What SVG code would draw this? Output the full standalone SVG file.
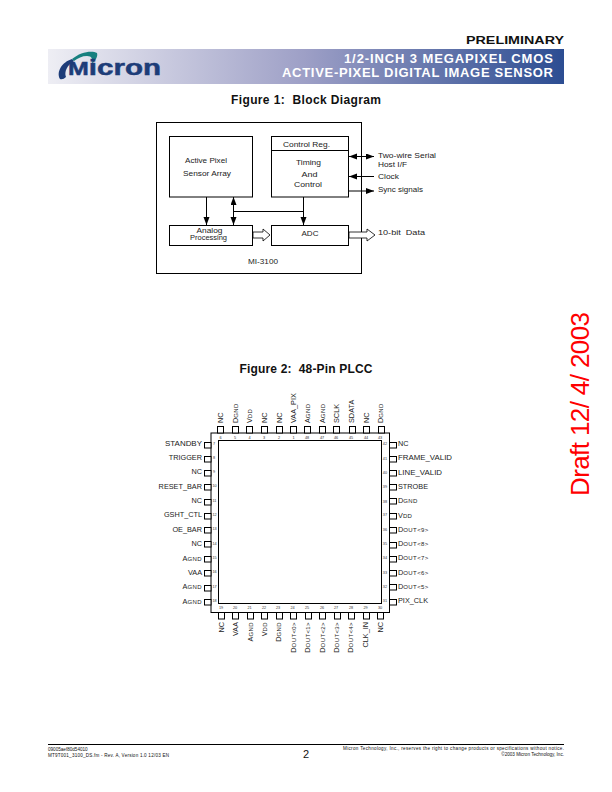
<svg xmlns="http://www.w3.org/2000/svg" width="612" height="792" viewBox="0 0 612 792">
<style>
text{font-family:"Liberation Sans",Arial,sans-serif;fill:#111}
.b{fill:#fff;stroke:#000;stroke-width:1}
.w{fill:none;stroke:#000;stroke-width:1}
.bl{font-size:7.2px;fill:#222;white-space:pre}
.pl{font-size:7.3px;fill:#222}
.pn{font-size:3.8px;fill:#333}
.sc{font-size:6px;letter-spacing:.4px}
.pin{fill:#fff;stroke:#000;stroke-width:1}
.c{text-anchor:middle}
.e{text-anchor:end}
.h{fill:#fff;stroke:#000;stroke-width:.8}
.t{font-weight:bold;font-size:12px;white-space:pre}
.hd{font-weight:bold;font-size:13px;fill:#fff;text-anchor:end}
</style>
<defs>
<linearGradient id="g" x1="0" x2="1" y1="0" y2="0"><stop offset="0" stop-color="#eeeef4"/><stop offset=".5" stop-color="#9d9fc6"/><stop offset="1" stop-color="#2c4d92"/></linearGradient>
<marker id="a" markerUnits="userSpaceOnUse" markerWidth="9" markerHeight="7" refX="8" refY="3" orient="auto-start-reverse"><path d="M0 0L8 3L0 6z" fill="#000"/></marker>
</defs>
<g id="header">
<text x="564" y="43.5" class="e" style="font-weight:bold;font-size:11px" textLength="98" lengthAdjust="spacingAndGlyphs">PRELIMINARY</text>
<rect x="48" y="49" width="516" height="35" fill="url(#g)"/>
<text x="553" y="62.5" class="hd" textLength="209" lengthAdjust="spacing">1/2-INCH 3 MEGAPIXEL CMOS</text>
<text x="553" y="76.5" class="hd" textLength="271" lengthAdjust="spacing">ACTIVE-PIXEL DIGITAL IMAGE SENSOR</text>
</g>
<g id="logo">
<path d="M60 79C56 72 62 62 72 59L74 61C67 65 64 72 66 77Q63 80 60 79z" fill="#1d3c78"/>
<path d="M72 59C80 52 92 50 97 53C98 56 96 60 92 64C93 59 92 56 87 56C82 56 78 58 74 61z" fill="#17807f"/>
<text x="68" y="75" style="font-weight:bold;font-size:22.5px;fill:#1d3c78;stroke:#1d3c78;stroke-width:.5" textLength="93" lengthAdjust="spacingAndGlyphs"><tspan style="font-size:19px">M</tspan>icron</text>
</g>
<text x="306" y="104" class="t c" textLength="150" lengthAdjust="spacing">Figure 1:  Block Diagram</text>
<g id="block-diagram">
<rect class="b" x="156.5" y="122.5" width="205" height="151"/>
<text x="263" y="263.5" class="bl c" textLength="30" lengthAdjust="spacingAndGlyphs">MI-3100</text>
</g>
<g id="sensor-array"><rect class="b" x="169.5" y="136.5" width="83" height="60.5"/><text x="206" y="163" class="bl c" textLength="42" lengthAdjust="spacingAndGlyphs">Active Pixel</text><text x="207" y="176" class="bl c" textLength="48" lengthAdjust="spacingAndGlyphs">Sensor Array</text></g>
<g id="control"><rect class="b" x="271.5" y="136.5" width="77" height="60.5"/><line class="w" x1="271.5" y1="150.5" x2="348.5" y2="150.5"/><text x="306.5" y="147" class="bl c" textLength="47" lengthAdjust="spacingAndGlyphs">Control Reg.</text><text x="308.5" y="165" class="bl c" textLength="25" lengthAdjust="spacingAndGlyphs">Timing</text><text x="309.5" y="177" class="bl c" textLength="16" lengthAdjust="spacingAndGlyphs">And</text><text x="308" y="187" class="bl c" textLength="28" lengthAdjust="spacingAndGlyphs">Control</text></g>
<g id="analog"><rect class="b" x="169.5" y="225.5" width="83" height="20"/><text x="209.5" y="233" class="bl c" textLength="26" lengthAdjust="spacingAndGlyphs">Analog</text><text x="208.5" y="240" class="bl c" textLength="37" lengthAdjust="spacingAndGlyphs">Processing</text></g>
<g id="adc"><rect class="b" x="271.5" y="225.5" width="77" height="20"/><text x="310" y="236" class="bl c" textLength="17" lengthAdjust="spacingAndGlyphs">ADC</text></g>
<g id="connectors">
<line class="w" x1="206.5" y1="197" x2="206.5" y2="225" marker-end="url(#a)"/>
<line class="w" x1="233.5" y1="197" x2="233.5" y2="225" marker-start="url(#a)" marker-end="url(#a)"/>
<line class="w" x1="233.5" y1="211.5" x2="303.5" y2="211.5"/>
<line class="w" x1="303.5" y1="197" x2="303.5" y2="225" marker-end="url(#a)"/>
<line class="w" x1="349" y1="156.5" x2="374" y2="156.5" marker-start="url(#a)" marker-end="url(#a)"/>
<line class="w" x1="374" y1="176.5" x2="349" y2="176.5" marker-end="url(#a)"/>
<line class="w" x1="349" y1="191" x2="374" y2="191" marker-end="url(#a)"/>
<path class="h" d="M253 232H263V229L270 235L263 241V238H253z"/>
<path class="h" d="M349 232H367V229L375 235L367 241V238H349z"/>
</g>
<g id="signals">
<text x="378" y="158" class="bl" textLength="58" lengthAdjust="spacingAndGlyphs">Two-wire Serial</text><text x="378" y="167" class="bl" textLength="29" lengthAdjust="spacingAndGlyphs">Host I/F</text><text x="378" y="179" class="bl" textLength="21" lengthAdjust="spacingAndGlyphs">Clock</text><text x="378" y="192" class="bl" textLength="45" lengthAdjust="spacingAndGlyphs">Sync signals</text><text x="378" y="235" class="bl" textLength="47" lengthAdjust="spacingAndGlyphs">10-bit  Data</text>
</g>
<text x="306" y="373" class="t c" textLength="133" lengthAdjust="spacing">Figure 2:  48-Pin PLCC</text>
<g id="package">
<rect class="b" x="211" y="433" width="178.5" height="179.5"/>
<rect class="b" x="218.5" y="440.5" width="163" height="163"/>
</g>
<g id="pins-top">
<rect class="pin" x="217.5" y="426.5" width="6" height="6.5"/><rect class="pin" x="232.5" y="426.5" width="6" height="6.5"/><rect class="pin" x="246.5" y="426.5" width="6" height="6.5"/><rect class="pin" x="261.5" y="426.5" width="6" height="6.5"/><rect class="pin" x="276.5" y="426.5" width="6" height="6.5"/><rect class="pin" x="290.5" y="426.5" width="6" height="6.5"/><rect class="pin" x="304.5" y="426.5" width="6" height="6.5"/><rect class="pin" x="319.5" y="426.5" width="6" height="6.5"/><rect class="pin" x="333.5" y="426.5" width="6" height="6.5"/><rect class="pin" x="349.5" y="426.5" width="6" height="6.5"/><rect class="pin" x="363.5" y="426.5" width="6" height="6.5"/><rect class="pin" x="378.5" y="426.5" width="6" height="6.5"/>
<text class="pl" transform="translate(222.5 423) rotate(-90)">NC</text>
<text class="pl" transform="translate(237.5 423) rotate(-90)">D<tspan class="sc">GND</tspan></text>
<text class="pl" transform="translate(251.5 423) rotate(-90)">V<tspan class="sc">DD</tspan></text>
<text class="pl" transform="translate(266.5 423) rotate(-90)">NC</text>
<text class="pl" transform="translate(281.5 423) rotate(-90)">NC</text>
<text class="pl" transform="translate(295.5 423) rotate(-90)">VAA_PIX</text>
<text class="pl" transform="translate(309.5 423) rotate(-90)">A<tspan class="sc">GND</tspan></text>
<text class="pl" transform="translate(324.5 423) rotate(-90)">A<tspan class="sc">GND</tspan></text>
<text class="pl" transform="translate(338.5 423) rotate(-90)">SCLK</text>
<text class="pl" transform="translate(353.5 423) rotate(-90)">SDATA</text>
<text class="pl" transform="translate(368.5 423) rotate(-90)">NC</text>
<text class="pl" transform="translate(383 423) rotate(-90)">D<tspan class="sc">GND</tspan></text>
<text class="pn c" x="220.5" y="438.5">6</text><text class="pn c" x="235" y="438.5">5</text><text class="pn c" x="249.5" y="438.5">4</text><text class="pn c" x="264" y="438.5">3</text><text class="pn c" x="279" y="438.5">2</text><text class="pn c" x="293.5" y="438.5">1</text><text class="pn c" x="307" y="438.5">48</text><text class="pn c" x="322" y="438.5">47</text><text class="pn c" x="336" y="438.5">46</text><text class="pn c" x="351" y="438.5">45</text><text class="pn c" x="366" y="438.5">44</text><text class="pn c" x="380" y="438.5">43</text>
</g>
<g id="pins-left">
<rect class="pin" x="204.5" y="442.5" width="6.5" height="5.5"/><rect class="pin" x="204.5" y="456.5" width="6.5" height="5.5"/><rect class="pin" x="204.5" y="470.5" width="6.5" height="5.5"/><rect class="pin" x="204.5" y="484.5" width="6.5" height="5.5"/><rect class="pin" x="204.5" y="499.5" width="6.5" height="5.5"/><rect class="pin" x="204.5" y="513.5" width="6.5" height="5.5"/><rect class="pin" x="204.5" y="527.5" width="6.5" height="5.5"/><rect class="pin" x="204.5" y="541.5" width="6.5" height="5.5"/><rect class="pin" x="204.5" y="556.5" width="6.5" height="5.5"/><rect class="pin" x="204.5" y="570.5" width="6.5" height="5.5"/><rect class="pin" x="204.5" y="585.5" width="6.5" height="5.5"/><rect class="pin" x="204.5" y="599.5" width="6.5" height="5.5"/>
<text class="pl e" x="202" y="445.5" textLength="37" lengthAdjust="spacingAndGlyphs">STANDBY</text><text class="pl e" x="202" y="460">TRIGGER</text><text class="pl e" x="202" y="474">NC</text><text class="pl e" x="202" y="488.5">RESET_BAR</text><text class="pl e" x="202" y="503">NC</text><text class="pl e" x="202" y="517">GSHT_CTL</text><text class="pl e" x="202" y="531.5">OE_BAR</text><text class="pl e" x="202" y="545.5">NC</text><text class="pl e" x="202" y="560.5">A<tspan class="sc">GND</tspan></text><text class="pl e" x="202" y="575">VAA</text><text class="pl e" x="202" y="589">A<tspan class="sc">GND</tspan></text><text class="pl e" x="202" y="603.5">A<tspan class="sc">GND</tspan></text>
<text class="pn" x="213" y="444.5">7</text><text class="pn" x="213" y="458.5">8</text><text class="pn" x="213" y="473">9</text><text class="pn" x="212.5" y="487">10</text><text class="pn" x="212.5" y="501.5">11</text><text class="pn" x="212.5" y="516">12</text><text class="pn" x="212.5" y="530">13</text><text class="pn" x="212.5" y="544.5">14</text><text class="pn" x="212.5" y="559">15</text><text class="pn" x="212.5" y="573">16</text><text class="pn" x="212.5" y="587.5">17</text><text class="pn" x="212.5" y="601.5">18</text>
</g>
<g id="pins-right">
<rect class="pin" x="389.5" y="442.5" width="7" height="5.5"/><rect class="pin" x="389.5" y="456.5" width="7" height="5.5"/><rect class="pin" x="389.5" y="470.5" width="7" height="5.5"/><rect class="pin" x="389.5" y="484.5" width="7" height="5.5"/><rect class="pin" x="389.5" y="498.5" width="7" height="5.5"/><rect class="pin" x="389.5" y="513.5" width="7" height="5.5"/><rect class="pin" x="389.5" y="527.5" width="7" height="5.5"/><rect class="pin" x="389.5" y="542.5" width="7" height="5.5"/><rect class="pin" x="389.5" y="556.5" width="7" height="5.5"/><rect class="pin" x="389.5" y="570.5" width="7" height="5.5"/><rect class="pin" x="389.5" y="584.5" width="7" height="5.5"/><rect class="pin" x="389.5" y="599.5" width="7" height="5.5"/>
<text class="pl" x="398" y="445.5">NC</text><text class="pl" x="398" y="459.5" textLength="54" lengthAdjust="spacingAndGlyphs">FRAME_VALID</text><text class="pl" x="398" y="474.5" textLength="44" lengthAdjust="spacingAndGlyphs">LINE_VALID</text><text class="pl" x="398" y="488.5">STROBE</text><text class="pl" x="398" y="503">D<tspan class="sc">GND</tspan></text><text class="pl" x="398" y="517.5">V<tspan class="sc">DD</tspan></text><text class="pl" x="398" y="531.5">D<tspan class="sc">OUT&lt;9&gt;</tspan></text><text class="pl" x="398" y="546">D<tspan class="sc">OUT&lt;8&gt;</tspan></text><text class="pl" x="398" y="560">D<tspan class="sc">OUT&lt;7&gt;</tspan></text><text class="pl" x="398" y="575">D<tspan class="sc">OUT&lt;6&gt;</tspan></text><text class="pl" x="398" y="589">D<tspan class="sc">OUT&lt;5&gt;</tspan></text><text class="pl" x="398" y="603">PIX_CLK</text>
<text class="pn e" x="387" y="445">42</text><text class="pn e" x="387" y="459.5">41</text><text class="pn e" x="387" y="473.5">40</text><text class="pn e" x="387" y="488">39</text><text class="pn e" x="387" y="502.5">38</text><text class="pn e" x="387" y="516">37</text><text class="pn e" x="387" y="530.5">36</text><text class="pn e" x="387" y="545">35</text><text class="pn e" x="387" y="559">34</text><text class="pn e" x="387" y="573.5">33</text><text class="pn e" x="387" y="587.5">32</text><text class="pn e" x="387" y="601.5">31</text>
</g>
<g id="pins-bottom">
<rect class="pin" x="218.5" y="612.5" width="6" height="6.5"/><rect class="pin" x="232.5" y="612.5" width="6" height="6.5"/><rect class="pin" x="247.5" y="612.5" width="6" height="6.5"/><rect class="pin" x="261.5" y="612.5" width="6" height="6.5"/><rect class="pin" x="276.5" y="612.5" width="6" height="6.5"/><rect class="pin" x="290.5" y="612.5" width="6" height="6.5"/><rect class="pin" x="305.5" y="612.5" width="6" height="6.5"/><rect class="pin" x="319.5" y="612.5" width="6" height="6.5"/><rect class="pin" x="334.5" y="612.5" width="6" height="6.5"/><rect class="pin" x="348.5" y="612.5" width="6" height="6.5"/><rect class="pin" x="363.5" y="612.5" width="6" height="6.5"/><rect class="pin" x="377.5" y="612.5" width="6" height="6.5"/>
<text class="pl e" transform="translate(223.5 622) rotate(-90)">NC</text>
<text class="pl e" transform="translate(237.5 622) rotate(-90)">VAA</text>
<text class="pl e" transform="translate(252.5 622) rotate(-90)">A<tspan class="sc">GND</tspan></text>
<text class="pl e" transform="translate(266.5 622) rotate(-90)">V<tspan class="sc">DD</tspan></text>
<text class="pl e" transform="translate(281 622) rotate(-90)">D<tspan class="sc">GND</tspan></text>
<text class="pl e" transform="translate(295.5 622) rotate(-90)">D<tspan class="sc">OUT&lt;0&gt;</tspan></text>
<text class="pl e" transform="translate(310 622) rotate(-90)">D<tspan class="sc">OUT&lt;1&gt;</tspan></text>
<text class="pl e" transform="translate(324.5 622) rotate(-90)">D<tspan class="sc">OUT&lt;2&gt;</tspan></text>
<text class="pl e" transform="translate(339 622) rotate(-90)">D<tspan class="sc">OUT&lt;3&gt;</tspan></text>
<text class="pl e" transform="translate(353 622) rotate(-90)">D<tspan class="sc">OUT&lt;4&gt;</tspan></text>
<text class="pl e" transform="translate(368 622) rotate(-90)">CLK_IN</text>
<text class="pl e" transform="translate(382.5 622) rotate(-90)">NC</text>
<text class="pn c" x="221" y="608.5">19</text><text class="pn c" x="235" y="608.5">20</text><text class="pn c" x="249.5" y="608.5">21</text><text class="pn c" x="264" y="608.5">22</text><text class="pn c" x="278" y="608.5">23</text><text class="pn c" x="292.5" y="608.5">24</text><text class="pn c" x="307" y="608.5">25</text><text class="pn c" x="322" y="608.5">26</text><text class="pn c" x="336" y="608.5">27</text><text class="pn c" x="351" y="608.5">28</text><text class="pn c" x="365.5" y="608.5">29</text><text class="pn c" x="380" y="608.5">30</text>
</g>
<g id="footer">
<line x1="48" y1="744.5" x2="564" y2="744.5" stroke="#000" stroke-width="1"/>
<text x="48" y="750.5" style="font-size:4.6px">09005aef80d54010</text>
<text x="48" y="756.5" style="font-size:4.6px" textLength="121" lengthAdjust="spacing">MT9T001_3100_DS.fm - Rev. A, Version 1.0 12/03 EN</text>
<text x="306" y="757.5" class="c" style="font-size:11px">2</text>
<text x="564" y="750" class="e" style="font-size:4.6px" textLength="221" lengthAdjust="spacing">Micron Technology, Inc., reserves the right to change products or specifications without notice.</text>
<text x="564" y="756" class="e" style="font-size:4.6px">©2003 Micron Technology, Inc.</text>
</g>
<text transform="translate(589 496) rotate(-90)" style="font-size:26px;fill:#f00" textLength="184" lengthAdjust="spacing">Draft 12/ 4/ 2003</text>
</svg>
